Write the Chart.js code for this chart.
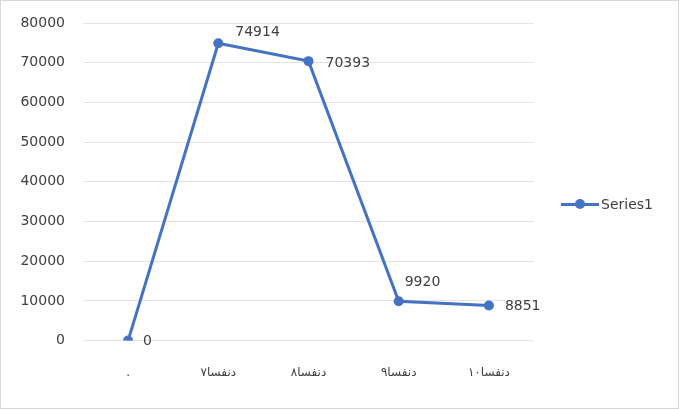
<!DOCTYPE html>
<html>
<head>
<meta charset="utf-8">
<script src="https://cdn.jsdelivr.net/npm/chart.js@4"></script>
<style>
  html, body { margin: 0; padding: 0; background: #fff; }
  #wrap { position: relative; width: 677px; height: 407px; border: 1px solid #d9d9d9; }
  #legend { position: absolute; left: 560px; top: 195px; font: 14px "DejaVu Sans", sans-serif; color: #404040; display: flex; align-items: center; }
  #legend .mark { position: relative; width: 38px; height: 3px; background: #4472c4; margin-right: 2px; }
  #legend .mark:after { content: ''; position: absolute; left: 14px; top: -4px; width: 10px; height: 10px; border-radius: 50%; background: #4472c4; }
</style>
</head>
<body>
<div id="wrap">
  <canvas id="chart" width="677" height="407"></canvas>
  <div id="legend"><span class="mark"></span><span id="legendText"></span></div>
</div>
<script>
// labels are shown left-to-right in the reference (digits first)
var categories = ['.', '\u202D۷اسفند\u202C', '\u202D۸اسفند\u202C', '\u202D۹اسفند\u202C', '\u202D۱۰اسفند\u202C'];
var series1 = [0, 74914, 70393, 9920, 8851];
var seriesName = 'Series1';

// where each value label sits relative to its point
var labelOffsets = [[15, 1], [17, -11], [17, 2], [6, -19], [16, 1]];

var valueLabels = {
    id: 'valueLabels',
    afterDatasetsDraw: function (chart) {
        var ctx = chart.ctx;
        var meta = chart.getDatasetMeta(0);
        ctx.save();
        ctx.font = '14px "DejaVu Sans", sans-serif';
        ctx.fillStyle = '#404040';
        ctx.textAlign = 'left';
        ctx.textBaseline = 'middle';
        for (var i = 0; i < meta.data.length; i++) {
            var p = meta.data[i];
            ctx.fillText(String(series1[i]), p.x + labelOffsets[i][0], p.y + labelOffsets[i][1]);
        }
        ctx.restore();
    }
};

document.getElementById('legendText').textContent = seriesName;

new Chart(document.getElementById('chart'), {
    type: 'line',
    data: {
        labels: categories,
        datasets: [{
            label: seriesName,
            data: series1,
            borderColor: '#4472c4',
            backgroundColor: '#4472c4',
            borderWidth: 3,
            pointRadius: 5,
            pointBorderWidth: 0,
            pointHoverRadius: 5,
            tension: 0
        }]
    },
    options: {
        responsive: false,
        animation: false,
        layout: { padding: { left: 17, right: 144, top: 22, bottom: 3 } },
        plugins: { legend: { display: false }, tooltip: { enabled: false } },
        scales: {
            x: {
                offset: true,
                grid: { display: false, drawTicks: false },
                border: { display: false },
                ticks: { color: '#404040', font: { family: 'DejaVu Sans', size: 12 }, padding: 25 }
            },
            y: {
                min: 0,
                max: 80000,
                afterFit: function (axis) {
                    axis.width = 65;
                    axis.paddingTop = 0;
                    axis.paddingBottom = 0;
                },
                grid: { color: '#e3e3e3', lineWidth: 1, drawTicks: false },
                border: { display: false },
                ticks: {
                    stepSize: 10000,
                    color: '#404040',
                    font: { family: 'DejaVu Sans', size: 14, lineHeight: 1 },
                    padding: 18,
                    callback: function (v) { return String(v); }
                }
            }
        }
    },
    plugins: [valueLabels]
});
</script>
</body>
</html>
